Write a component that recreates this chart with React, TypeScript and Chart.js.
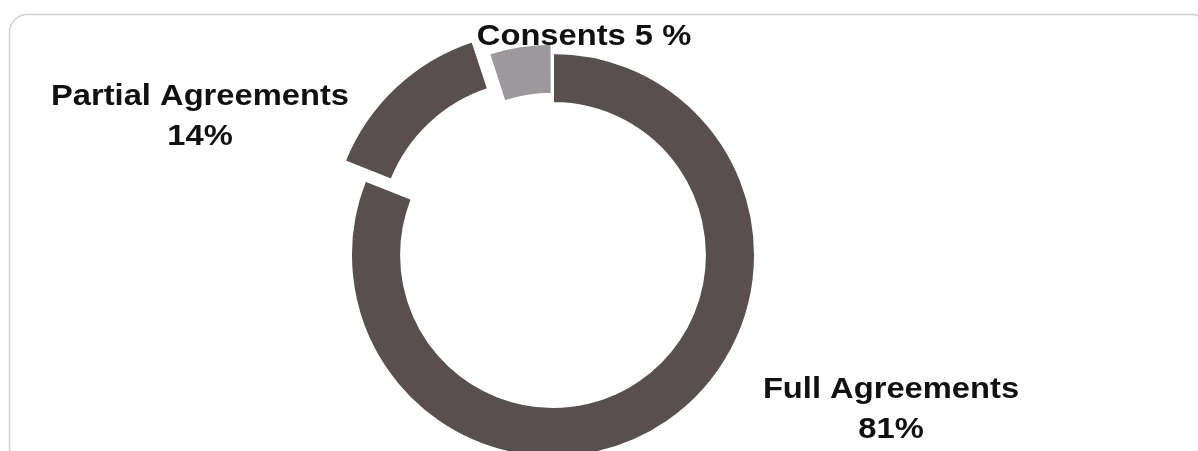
import React, { useEffect, useRef } from 'react';
import { Chart, registerables } from 'chart.js';

Chart.register(...registerables);

// ---- data ----
const categories = ['Full Agreements', 'Partial Agreements', 'Consents'];
const shares = [81, 14, 5];
const valueLabels = ['81%', '14%', '5 %'];

// ---- styling / layout ----
const sliceColors = ['#594f4f', '#594f4f', '#9c989c'];
const sliceOffsets = [0, 92, 22];
// label anchor relative to the doughnut centre (centre-x, first baseline)
const labelAnchors = [
  { dx: 338, dy: 143, inline: false },
  { dx: -353, dy: -150, inline: false },
  { dx: 31, dy: -210, inline: true },
];

const framePlugin = {
  id: 'frame',
  beforeDraw(chart: any) {
    const ctx = chart.ctx;
    ctx.save();
    ctx.strokeStyle = '#d4cfd6';
    ctx.lineWidth = 1.5;
    ctx.beginPath();
    (ctx as any).roundRect(9.5, 14.5, 1200, 452, 18);
    ctx.stroke();
    ctx.restore();
  },
};

const labelPlugin = {
  id: 'sliceLabels',
  afterDatasetsDraw(chart: any) {
    const ctx = chart.ctx;
    const meta = chart.getDatasetMeta(0);
    const arc0 = meta.data[0];
    if (!arc0) return;
    const cx = arc0.x;
    const cy = arc0.y;
    ctx.save();
    ctx.fillStyle = '#111111';
    ctx.font = 'bold 30px "Liberation Sans", Arial, sans-serif';
    ctx.textAlign = 'center';
    ctx.textBaseline = 'alphabetic';
    categories.forEach((name, i) => {
      const a = labelAnchors[i];
      const lines = a.inline ? [`${name} ${valueLabels[i]}`] : [name, valueLabels[i]];
      ctx.save();
      ctx.translate(cx + a.dx, cy + a.dy);
      ctx.scale(1.09, 1);
      lines.forEach((t, j) => ctx.fillText(t, 0, j * 40));
      ctx.restore();
    });
    ctx.restore();
  },
};

export default function App() {
  const ref = useRef<HTMLCanvasElement | null>(null);

  useEffect(() => {
    document.body.style.margin = '0';
    document.body.style.background = '#ffffff';
    const canvas = ref.current;
    if (!canvas) return;
    const chart = new Chart(canvas, {
      type: 'doughnut',
      data: {
        labels: categories,
        datasets: [
          {
            data: shares,
            backgroundColor: sliceColors,
            borderColor: '#ffffff',
            borderWidth: 2,
            offset: sliceOffsets,
            hoverOffset: 0,
            clip: false,
          } as any,
        ],
      },
      options: {
        responsive: false,
        animation: false,
        radius: 202,
        cutout: '75.2%',
        rotation: 0,
        layout: { padding: { left: 0, right: 92, top: 59, bottom: 0 } },
        plugins: {
          legend: { display: false },
          tooltip: { enabled: false },
        },
        events: [],
      } as any,
      plugins: [framePlugin, labelPlugin],
    });
    return () => chart.destroy();
  }, []);

  return (
    <div style={{ width: 1198, height: 451, position: 'relative', background: '#fff' }}>
      <canvas ref={ref} width={1198} height={451} style={{ display: 'block' }} />
    </div>
  );
}
